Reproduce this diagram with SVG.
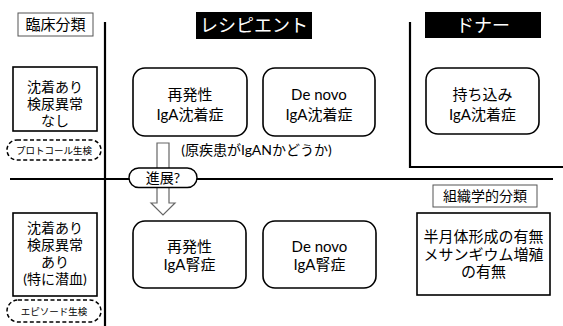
<svg xmlns="http://www.w3.org/2000/svg" width="563" height="326" viewBox="0 0 563 326">
<style>
text{font-family:Lato,"Noto Sans CJK JP",sans-serif;fill:#000;text-anchor:middle}
.rbox{fill:#fff;stroke:#000;stroke-width:1.6}
.sbox{fill:#fff;stroke:#000;stroke-width:1.6}
.lbl{fill:#fff;stroke:#555;stroke-width:1}
.dash{fill:#fff;stroke:#000;stroke-width:1.5;stroke-dasharray:4 2.5}
.hdr{fill:#000}
.hdrt{fill:#fff;font-size:18px}
.t15{font-size:15px}
.t14{font-size:14px}
.t9{font-size:9.5px}
.line{fill:none;stroke:#000;stroke-width:2.2}
</style>
<rect width="563" height="326" fill="#fff"/>
<g id="connectors">
<path class="line" d="M105,22 V326"/>
<path class="line" d="M410,22 V167 H563"/>
<path class="line" d="M10,179 H553"/>
<path id="arrow" d="M157,143 H169 V203 H175 L163,215 L151,203 H157 Z" fill="#fff" stroke="#666" stroke-width="1.2"/>
</g>
<g id="clinical-label"><rect class="lbl" x="18" y="13" width="75" height="23"/><text class="t15" x="55.5" y="30">臨床分類</text></g>
<g id="recipient-header"><rect class="hdr" x="196" y="12" width="116" height="27"/><text class="hdrt" x="254" y="32">レシピエント</text></g>
<g id="donor-header"><rect class="hdr" x="425" y="12" width="116" height="26"/><text class="hdrt" x="483" y="32">ドナー</text></g>
<g id="no-abnormal"><rect class="sbox" x="13" y="67" width="84" height="64"/><text class="t14" x="55" y="92">沈着あり</text><text class="t14" x="55" y="109">検尿異常</text><text class="t14" x="55" y="126">なし</text></g>
<g id="protocol-biopsy"><rect class="dash" x="7" y="140" width="94" height="20" rx="10"/><text class="t9" x="54" y="153.5">プロトコール生検</text></g>
<g id="recurrent-deposit"><rect class="rbox" x="133" y="68" width="114" height="68" rx="12"/><text class="t15" x="190" y="100">再発性</text><text class="t15" x="190" y="120">IgA沈着症</text></g>
<g id="denovo-deposit"><rect class="rbox" x="263" y="68" width="112" height="68" rx="12"/><text class="t15" x="319" y="100">De novo</text><text class="t15" x="319" y="120">IgA沈着症</text></g>
<g id="donor-deposit"><rect class="rbox" x="426" y="68" width="113" height="66" rx="12"/><text class="t15" x="482.5" y="100">持ち込み</text><text class="t15" x="482.5" y="120">IgA沈着症</text></g>
<g id="note"><text class="t14" x="256.5" y="155">(原疾患がIgANかどうか)</text></g>
<g id="progress"><rect x="129" y="168" width="68" height="19.5" rx="9.75" fill="#fff" stroke="#000" stroke-width="1.4"/><text class="t14" x="163" y="182.5">進展?</text></g>
<g id="abnormal"><rect class="sbox" x="13" y="213" width="84" height="83"/><text class="t14" x="55" y="233">沈着あり</text><text class="t14" x="55" y="250">検尿異常</text><text class="t14" x="55" y="267">あり</text><text class="t14" x="55" y="284">(特に潜血)</text></g>
<g id="episode-biopsy"><rect class="dash" x="7" y="300" width="94" height="22" rx="11"/><text class="t9" x="54" y="314.5">エピソード生検</text></g>
<g id="recurrent-nephropathy"><rect class="rbox" x="133" y="221" width="113" height="67" rx="12"/><text class="t15" x="189.5" y="252">再発性</text><text class="t15" x="189.5" y="270">IgA腎症</text></g>
<g id="denovo-nephropathy"><rect class="rbox" x="263" y="221" width="113" height="67" rx="12"/><text class="t15" x="319.5" y="252">De novo</text><text class="t15" x="319.5" y="270">IgA腎症</text></g>
<g id="histology-label"><rect class="lbl" x="433" y="185" width="104" height="22"/><text class="t14" x="485" y="201">組織学的分類</text></g>
<g id="histology"><rect class="sbox" x="417" y="213" width="133" height="82" stroke-width="2"/><text class="t15" x="483.5" y="242">半月体形成の有無</text><text class="t15" x="483.5" y="260">メサンギウム増殖</text><text class="t15" x="483.5" y="277">の有無</text></g>
</svg>
